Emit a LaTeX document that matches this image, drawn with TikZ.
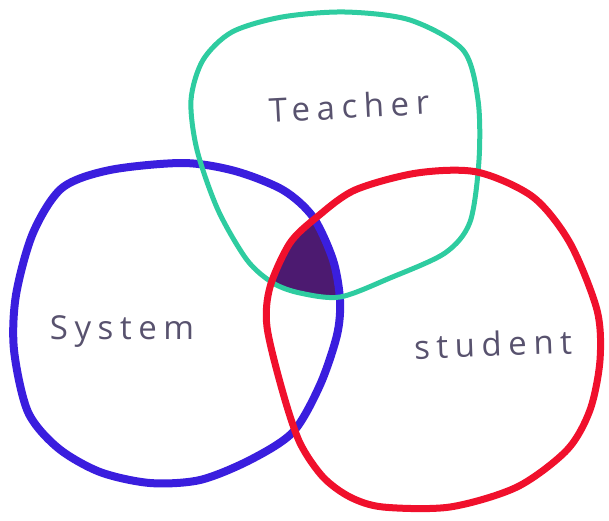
\documentclass[tikz,border=0pt]{standalone}
\usepackage{fontspec}
\newfontfamily\handfont[LetterSpace=20]{Open Sans}
\usetikzlibrary{positioning}

\definecolor{tealpen}{RGB}{46,204,160}
\definecolor{bluepen}{RGB}{58,30,222}
\definecolor{redpen}{RGB}{240,16,44}
\definecolor{corepen}{RGB}{76,26,112}
\definecolor{inkpen}{RGB}{88,82,110}

\begin{document}
\begin{tikzpicture}[x=1pt,y=-1pt,
    pen/.style={line width=#1, line join=round, line cap=round},
    teacher/.style={draw=tealpen, pen=5pt},
    system/.style={draw=bluepen, pen=8pt},
    student/.style={draw=redpen, pen=7pt},
    core/.style={fill=corepen},
    word/.style={text=inkpen, font=\handfont\fontsize{33}{33}\selectfont, inner sep=0pt}]
    \useasboundingbox (0,0) rectangle (609,520);
    \path[save path=\teacherpath] plot[smooth cycle] coordinates {(345,12) (410,20) (463,50) (478,100) (479,160) (470,222) (445,253) (390,278) (340,297) (300,293) (273,283) (247,260) (218,210) (197,150) (191,100) (203,60) (232,32) (282,17)};
    \path[save path=\systempath] plot[smooth cycle] coordinates {(183,163) (235,171) (283,190) (313,217) (333,260) (340,300) (337,335) (320,385) (293,432) (250,460) (200,480) (150,483) (100,472) (58,448) (28,412) (14,350) (16,295) (33,233) (62,188) (110,170)};
    \path[save path=\studentpath] plot[smooth cycle] coordinates {(417,173) (477,172) (533,197) (570,243) (597,310) (600,360) (590,410) (567,450) (517,487) (450,507) (383,507) (350,497) (323,477) (300,443) (283,393) (267,327) (270,287) (290,243) (317,217) (355,190)};
    % shaded middle
    \begin{scope}
        \clip[use path=\teacherpath];
        \clip[use path=\systempath];
        \fill[core, use path=\studentpath];
    \end{scope}
    \path[system, use path=\systempath];
    \path[teacher, use path=\teacherpath];
    \path[student, use path=\studentpath];
    \node[word, rotate=3] (T) at (349,106) {Teacher};
    \node[word] (Sy) at (122,332) {System};
    \node[word, rotate=2] (St) at (493,344) {student};
\end{tikzpicture}
\end{document}
